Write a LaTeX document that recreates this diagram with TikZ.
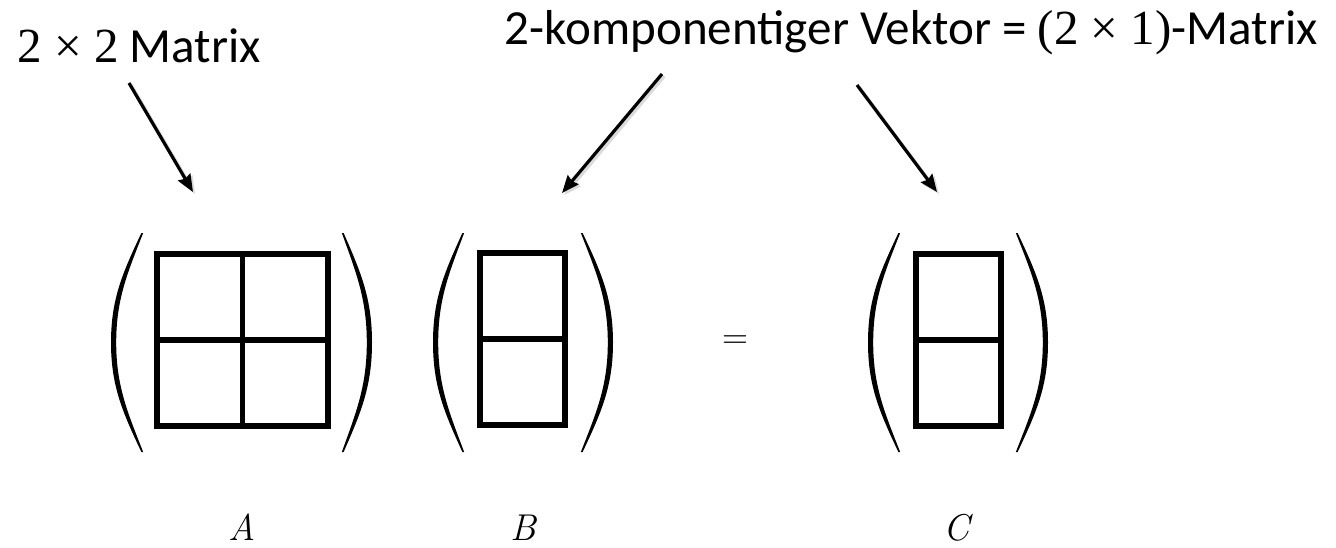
\documentclass[tikz,border=0pt]{standalone}
\usepackage{fontspec}
\setmainfont{Carlito}
\newfontfamily\mathlikefont{Liberation Serif}
\newfontfamily\lmserif{Latin Modern Roman}
\usetikzlibrary{arrows.meta}
\tikzset{
  cellbox/.style={draw, line width=4pt, minimum height=129pt, inner sep=0pt, outer sep=0pt},
  cellline/.style={line width=3.8pt},
  callout/.style={font=\fontsize{36.8}{40}\selectfont, inner sep=0pt},
  namelabel/.style={font=\lmserif\itshape\fontsize{28}{32}\selectfont, inner sep=0pt},
  eqsign/.style={font=\lmserif\fontsize{27}{30}\selectfont, inner sep=0pt},
  pointer/.style={line width=2.4pt, -{Stealth[length=13pt,width=10.5pt,inset=1.5pt]}},
  pointershadow/.style={line width=2.6pt, draw=black!14, -{Stealth[length=13pt,width=10.5pt,inset=1.5pt]},
    transform canvas={shift={(1.6pt,-1.6pt)}}}
}
% #1 end x, #2 top y, #3 bottom y, #4 signed bulge width, #5 signed thickness
\newcommand\bigparenshape[5]{%
  \fill ({#1-0.12*#5},#2) .. controls ({#1-0.62*#4},{#2+0.18*(#3-#2)}) and ({#1-#4},{#2+0.30*(#3-#2)}) .. ({#1-#4},{(#2+#3)/2})
    .. controls ({#1-#4},{#3-0.30*(#3-#2)}) and ({#1-0.62*#4},{#3-0.18*(#3-#2)}) .. ({#1-0.12*#5},#3)
    -- ({#1+0.22*#5},#3) .. controls ({#1-0.62*#4+0.95*#5},{#3-0.18*(#3-#2)}) and ({#1-#4+#5},{#3-0.30*(#3-#2)}) .. ({#1-#4+#5},{(#2+#3)/2})
    .. controls ({#1-#4+#5},{#2+0.30*(#3-#2)}) and ({#1-0.62*#4+0.95*#5},{#2+0.18*(#3-#2)}) .. ({#1+0.22*#5},#2) -- cycle;
}
\begin{document}
\begin{tikzpicture}[x=0.75pt,y=-0.75pt]
\useasboundingbox (0,0) rectangle (1336,547);

% texts
\node[callout, anchor=base west] (txtA) at (17,62) {{\mathlikefont 2 × 2} Matrix};
\node[callout, anchor=base east] (txtV) at (1318,44) {2-komponentiger Vektor = {\mathlikefont (2 × 1)}-Matrix};

% matrices
\node[cellbox, minimum width=128.25pt] (boxA) at (242.5,340) {};
\draw[cellline] (boxA.north) -- (boxA.south);
\draw[cellline] (boxA.west) -- (boxA.east);

\node[cellbox, minimum width=63.75pt] (boxB) at (522.5,339) {};
\draw[cellline] (boxB.west) -- (boxB.east);

\node[cellbox, minimum width=63.75pt] (boxC) at (958.5,340) {};
\draw[cellline] (boxC.west) -- (boxC.east);

% parentheses
\bigparenshape{142}{233}{452}{31}{5.2}
\bigparenshape{343}{233}{452}{-29}{-5.2}
\bigparenshape{463}{233}{452}{30}{5.2}
\bigparenshape{582}{233}{452}{-31}{-5.2}
\bigparenshape{899}{233}{452}{31}{5.2}
\bigparenshape{1017}{233}{452}{-31}{-5.2}

% equals sign
\node[eqsign, anchor=base] (eq) at (735,348) {=};

% labels
\node[namelabel, anchor=base] (labA) at (242,540) {A};
\node[namelabel, anchor=base] (labB) at (523,540) {B};
\node[namelabel, anchor=base] (labC) at (957,540) {C};

% arrows
\coordinate (p1s) at (129,83);  \coordinate (p1e) at (193,192);
\coordinate (p2s) at (662,74);  \coordinate (p2e) at (562,193);
\coordinate (p3s) at (857,85);  \coordinate (p3e) at (937,192);
\draw[pointershadow] (p1s) -- (p1e);
\draw[pointershadow] (p2s) -- (p2e);
\draw[pointershadow] (p3s) -- (p3e);
\draw[pointer] (p1s) -- (p1e);
\draw[pointer] (p2s) -- (p2e);
\draw[pointer] (p3s) -- (p3e);
\end{tikzpicture}
\end{document}
